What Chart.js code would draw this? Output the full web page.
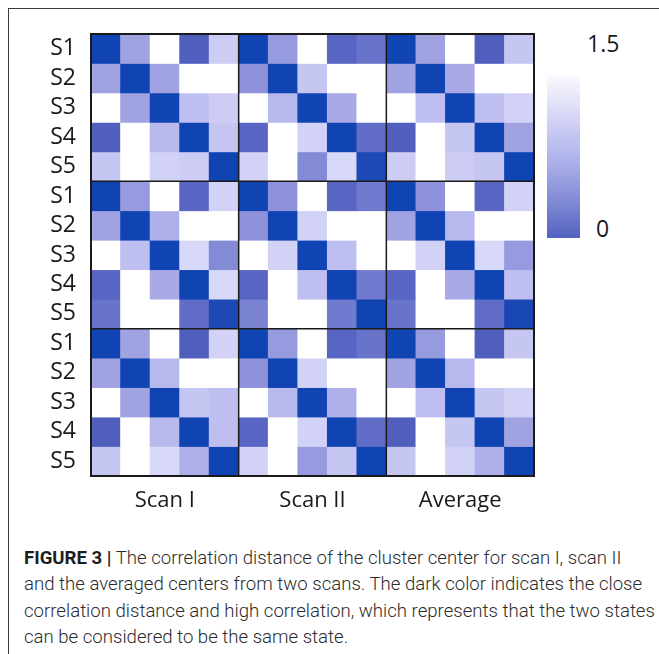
<!DOCTYPE html>
<html>
<head>
<meta charset="utf-8">
<script src="https://cdn.jsdelivr.net/npm/chart.js@4.4.1/dist/chart.umd.min.js"></script>
<style>
  html, body { margin: 0; padding: 0; background: #fff; }
  body { width: 659px; height: 654px; position: relative; overflow: hidden; }
  #frame { position: absolute; left: 8px; top: 8px; width: 700px; height: 700px;
           border-left: 1px solid #3a3a3a; border-top: 1px solid #3a3a3a; }
  #plot { position: absolute; left: 0; top: 0; }
  #cbar { position: absolute; left: 547px; top: 75px; width: 33px; height: 163px;
          background: linear-gradient(to bottom, #fafafe 0%, #d6d6f6 25%, #aaaee8 55%, #7c86d2 80%, #5262bf 100%); }
  .cbl { position: absolute; font-family: 'Open Sans', sans-serif; font-size: 23px; color: #1a1a1a; line-height: 1; }
  #caption { position: absolute; left: 24px; top: 545px; font-family: Roboto, 'Liberation Sans', sans-serif;
             font-weight: 300; font-size: 18.6px; line-height: 26.3px; color: #2b2b2b; white-space: nowrap; }
  #caption b { font-weight: 700; color: #1e1e1e; }
</style>
</head>
<body>
<div id="frame"></div>
<canvas id="plot" width="540" height="520"></canvas>
<div id="cbar"></div>
<div class="cbl" style="left:587px; top:32px;">1.5</div>
<div class="cbl" style="left:596px; top:217px;">0</div>
<div id="caption">
  <b>FIGURE 3 |</b> The correlation distance of the cluster center for scan I, scan II<br>
  and the averaged centers from two scans. The dark color indicates the close<br>
  correlation distance and high correlation, which represents that the two states<br>
  can be considered to be the same state.
</div>
<script>
// Correlation distance between cluster centers (0 = identical, 1.5 = far apart).
// Columns: Scan I S1..S5 | Scan II S1..S5 | Average S1..S5
const columnGroups = ['Scan I', 'Scan II', 'Average'];
const stateLabels = ['S1', 'S2', 'S3', 'S4', 'S5'];

// Rows S1..S5 of the first row block
const rowsBlock1 = [
  [0.00, 0.85, 1.50, 0.40, 1.15,  0.00, 0.80, 1.50, 0.45, 0.55,  0.00, 0.85, 1.50, 0.40, 1.10],
  [0.85, 0.00, 0.85, 1.50, 1.50,  0.75, 0.00, 1.10, 1.50, 1.50,  0.85, 0.00, 0.90, 1.50, 1.50],
  [1.50, 0.85, 0.00, 1.05, 1.15,  1.50, 1.00, 0.00, 0.90, 1.50,  1.50, 1.05, 0.00, 1.05, 1.20],
  [0.40, 1.50, 1.00, 0.00, 1.10,  0.45, 1.50, 1.20, 0.00, 0.50,  0.40, 1.50, 1.10, 0.00, 0.85],
  [1.10, 1.50, 1.20, 1.15, 0.00,  1.20, 1.50, 0.70, 1.25, 0.08,  1.15, 1.50, 1.15, 1.10, 0.00]
];
// Rows S1..S5 of the second row block
const rowsBlock2 = [
  [0.00, 0.80, 1.50, 0.45, 1.20,  0.00, 0.75, 1.50, 0.45, 0.60,  0.00, 0.75, 1.50, 0.45, 1.20],
  [0.85, 0.00, 0.95, 1.50, 1.50,  0.75, 0.00, 1.20, 1.50, 1.50,  0.85, 0.00, 1.00, 1.50, 1.50],
  [1.50, 1.05, 0.00, 1.25, 0.70,  1.50, 1.20, 0.00, 1.05, 1.50,  1.50, 1.20, 0.00, 1.25, 0.80],
  [0.45, 1.50, 0.90, 0.00, 1.25,  0.45, 1.50, 1.05, 0.00, 0.60,  0.45, 1.50, 0.90, 0.00, 1.05],
  [0.55, 1.50, 1.50, 0.50, 0.08,  0.65, 1.50, 1.50, 0.60, 0.00,  0.55, 1.50, 1.50, 0.50, 0.05]
];
// Rows S1..S5 of the third row block
const rowsBlock3 = [
  [0.00, 0.85, 1.50, 0.40, 1.20,  0.00, 0.80, 1.50, 0.45, 0.55,  0.00, 0.80, 1.50, 0.40, 1.10],
  [0.85, 0.00, 1.00, 1.50, 1.50,  0.75, 0.00, 1.20, 1.50, 1.50,  0.85, 0.00, 1.00, 1.50, 1.50],
  [1.50, 0.85, 0.00, 1.10, 1.05,  1.50, 1.00, 0.00, 0.95, 1.50,  1.50, 1.05, 0.00, 1.10, 1.20],
  [0.40, 1.50, 1.00, 0.00, 1.05,  0.45, 1.50, 1.20, 0.00, 0.50,  0.40, 1.50, 1.10, 0.00, 0.85],
  [1.10, 1.50, 1.25, 0.95, 0.00,  1.20, 1.50, 0.80, 1.10, 0.00,  1.10, 1.50, 1.20, 0.95, 0.00]
];

const valueMax = 1.5;
// Colour ramp: dark blue at 0 fading to white at 1.5
const colorStops = [
  [0.00, [16, 68, 178]],
  [0.40, [80, 94, 190]],
  [0.60, [112, 122, 206]],
  [0.85, [160, 162, 226]],
  [1.10, [198, 198, 243]],
  [1.25, [216, 216, 249]],
  [1.50, [255, 255, 255]]
];
function colorFor(v) {
  v = Math.max(0, Math.min(valueMax, v));
  for (let k = 1; k < colorStops.length; k++) {
    const [v1, c1] = colorStops[k];
    const [v0, c0] = colorStops[k - 1];
    if (v <= v1) {
      const t = (v - v0) / (v1 - v0);
      const c = c0.map((a, i) => Math.round(a + (c1[i] - a) * t));
      return `rgb(${c[0]},${c[1]},${c[2]})`;
    }
  }
  return 'rgb(255,255,255)';
}

const matrix = [...rowsBlock1, ...rowsBlock2, ...rowsBlock3];
const columnKeys = columnGroups.flatMap(g => stateLabels.map(s => g + ' ' + s));

// One stacked dataset per matrix row; each cell is one unit tall, coloured by its value
const datasets = matrix.map((row, r) => ({
  label: 'row ' + (r + 1),
  data: row.map(() => 1),
  values: row,
  backgroundColor: row.map(colorFor),
  borderWidth: 0,
  categoryPercentage: 1,
  barPercentage: 1
}));

const blockLines = {
  id: 'blockLines',
  afterDatasetsDraw(chart) {
    const { ctx, chartArea: a, scales: { x, y } } = chart;
    ctx.save();
    ctx.strokeStyle = '#1a1a1a';
    ctx.lineWidth = 1.5;
    [5, 10].forEach(b => {
      const px = (x.getPixelForValue(b - 1) + x.getPixelForValue(b)) / 2;
      ctx.beginPath(); ctx.moveTo(px, a.top); ctx.lineTo(px, a.bottom); ctx.stroke();
      const py = y.getPixelForValue(b);
      ctx.beginPath(); ctx.moveTo(a.left, py); ctx.lineTo(a.right, py); ctx.stroke();
    });
    ctx.lineWidth = 2;
    ctx.strokeRect(a.left, a.top, a.right - a.left, a.bottom - a.top);
    ctx.restore();
  }
};

new Chart(document.getElementById('plot'), {
  type: 'bar',
  data: { labels: columnKeys, datasets },
  options: {
    responsive: false,
    animation: false,
    devicePixelRatio: 1,
    layout: { padding: { left: 0, top: 34, right: 6, bottom: 0 } },
    plugins: { legend: { display: false }, tooltip: { enabled: false } },
    scales: {
      x: {
        stacked: true,
        grid: { display: false, drawTicks: false },
        border: { display: false },
        ticks: {
          autoSkip: false, maxRotation: 0, padding: 12,
          color: '#1a1a1a',
          font: { family: 'Open Sans', size: 22 },
          callback: (v, i) => (i % 5 === 2 ? columnGroups[Math.floor(i / 5)] : '')
        },
        afterFit: s => { s.height = 44; }
      },
      y: {
        stacked: true,
        reverse: true,
        min: 0,
        max: matrix.length,
        grid: { display: false, drawTicks: false },
        border: { display: false },
        afterBuildTicks: s => { s.ticks = matrix.map((_, i) => ({ value: i + 0.5 })); },
        ticks: {
          autoSkip: false, padding: 15,
          color: '#1a1a1a',
          font: { family: 'Open Sans', size: 23 },
          callback: v => stateLabels[Math.floor(v) % stateLabels.length]
        },
        afterFit: s => { s.width = 91; }
      }
    }
  },
  plugins: [blockLines]
});
</script>
</body>
</html>
